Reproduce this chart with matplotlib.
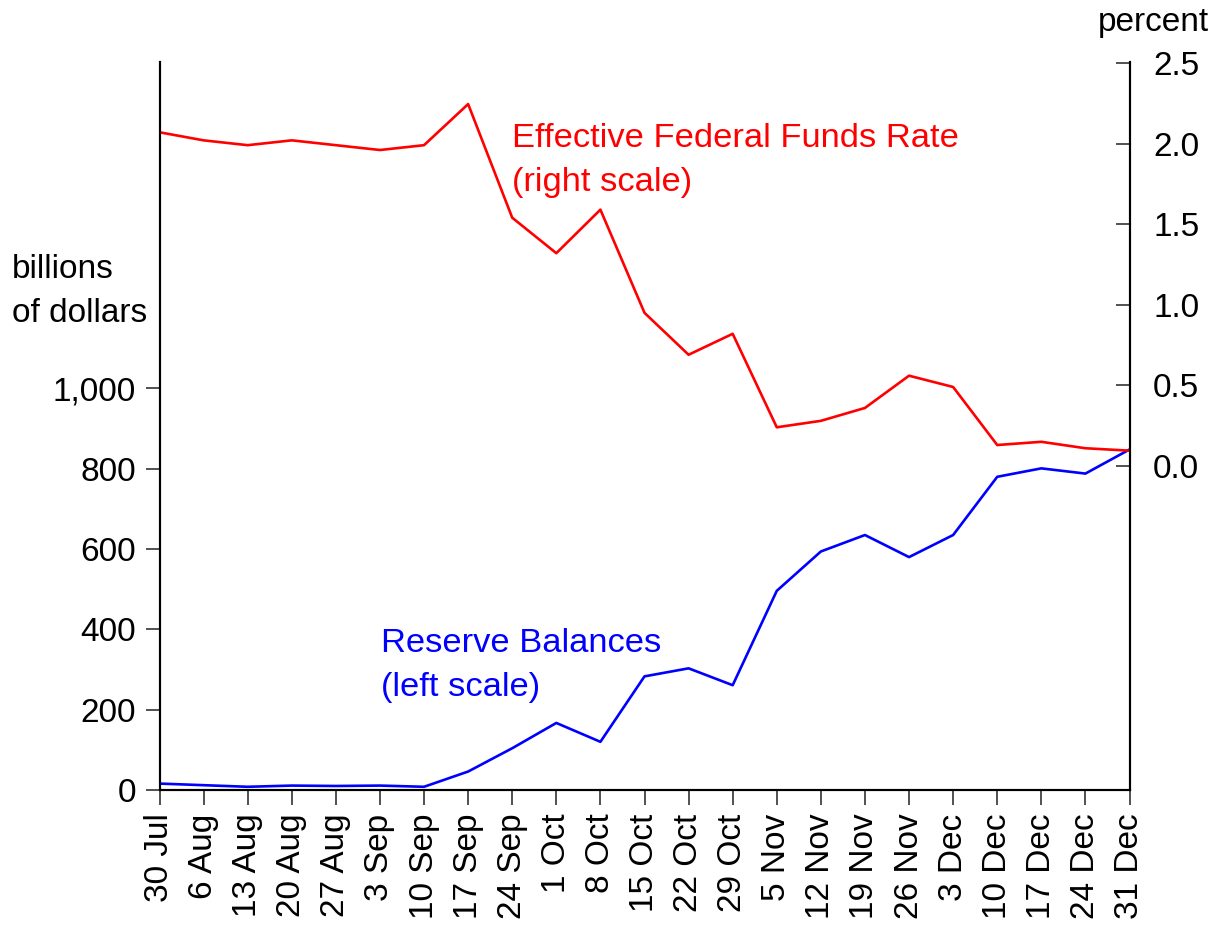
import matplotlib.pyplot as plt
from matplotlib.ticker import FuncFormatter

plt.rcParams["font.family"] = ["Liberation Sans", "DejaVu Sans"]

dates = [
    "30 Jul", "6 Aug", "13 Aug", "20 Aug", "27 Aug", "3 Sep", "10 Sep",
    "17 Sep", "24 Sep", "1 Oct", "8 Oct", "15 Oct", "22 Oct", "29 Oct",
    "5 Nov", "12 Nov", "19 Nov", "26 Nov", "3 Dec", "10 Dec", "17 Dec",
    "24 Dec", "31 Dec",
]
# billions of dollars (left scale)
reserves = [
    16, 12, 8, 11, 10, 11, 8, 46, 104, 167, 120, 283, 303, 261,
    496, 594, 635, 580, 635, 780, 801, 788, 848,
]
# percent (right scale)
fed_funds = [
    2.07, 2.02, 1.99, 2.02, 1.99, 1.96, 1.99, 2.245, 1.54, 1.32, 1.59,
    0.95, 0.69, 0.82, 0.24, 0.28, 0.36, 0.56, 0.49, 0.13, 0.15, 0.11, 0.095,
]
left_ticks = [0, 200, 400, 600, 800, 1000]
right_ticks = [0.0, 0.5, 1.0, 1.5, 2.0, 2.5]

fs = 24
fs_note = 24.8
fig = plt.figure(figsize=(12.28, 9.27), dpi=100)
ax = fig.add_axes([159.5 / 1228, 1 - 790 / 927, 970 / 1228, 728 / 927])
ax2 = ax.twinx()

x = list(range(len(dates)))
ax.plot(x, reserves, color="#0000ff", lw=1.9)
ax2.plot(x, fed_funds, color="#ff0000", lw=1.9)

ax.set_xlim(0, len(dates) - 1)
ax.set_ylim(0, 1813)
ax2.set_ylim(-2.01, 2.506)

ax.set_xticks(x)
ax.set_xticklabels(dates, rotation=90, fontsize=fs)
ax.set_yticks(left_ticks)
ax.yaxis.set_major_formatter(FuncFormatter(lambda v, p: f"{v:,.0f}"))
ax2.set_yticks(right_ticks)
ax2.yaxis.set_major_formatter(FuncFormatter(lambda v, p: f"{v:.1f}"))

ax.tick_params(axis="x", direction="out", length=11, width=1.2, color="#333333",
               pad=6, labelsize=fs)
ax.tick_params(axis="y", direction="out", length=10, width=1.2, color="#333333",
               pad=7, labelsize=fs)
ax2.tick_params(axis="y", direction="in", length=10, width=1.2, color="#333333",
                pad=17, labelsize=fs)

for a in (ax, ax2):
    a.spines["top"].set_visible(False)
    for s in ("left", "right", "bottom"):
        a.spines[s].set_linewidth(1.5)
        a.spines[s].set_color("black")

fig.text(12 / 1228, 1 - 278 / 927, "billions", fontsize=fs, va="baseline")
fig.text(12 / 1228, 1 - 322 / 927, "of dollars", fontsize=fs, va="baseline")
fig.text(1098 / 1228, 1 - 31 / 927, "percent", fontsize=fs, va="baseline")

fig.text(512 / 1228, 1 - 147 / 927, "Effective Federal Funds Rate",
         fontsize=fs_note, color="#ff0000", va="baseline")
fig.text(512 / 1228, 1 - 191 / 927, "(right scale)",
         fontsize=fs_note, color="#ff0000", va="baseline")
fig.text(381 / 1228, 1 - 652 / 927, "Reserve Balances",
         fontsize=fs_note, color="#0000ff", va="baseline")
fig.text(381 / 1228, 1 - 696 / 927, "(left scale)",
         fontsize=fs_note, color="#0000ff", va="baseline")

fig.savefig("out.png", dpi=100)
